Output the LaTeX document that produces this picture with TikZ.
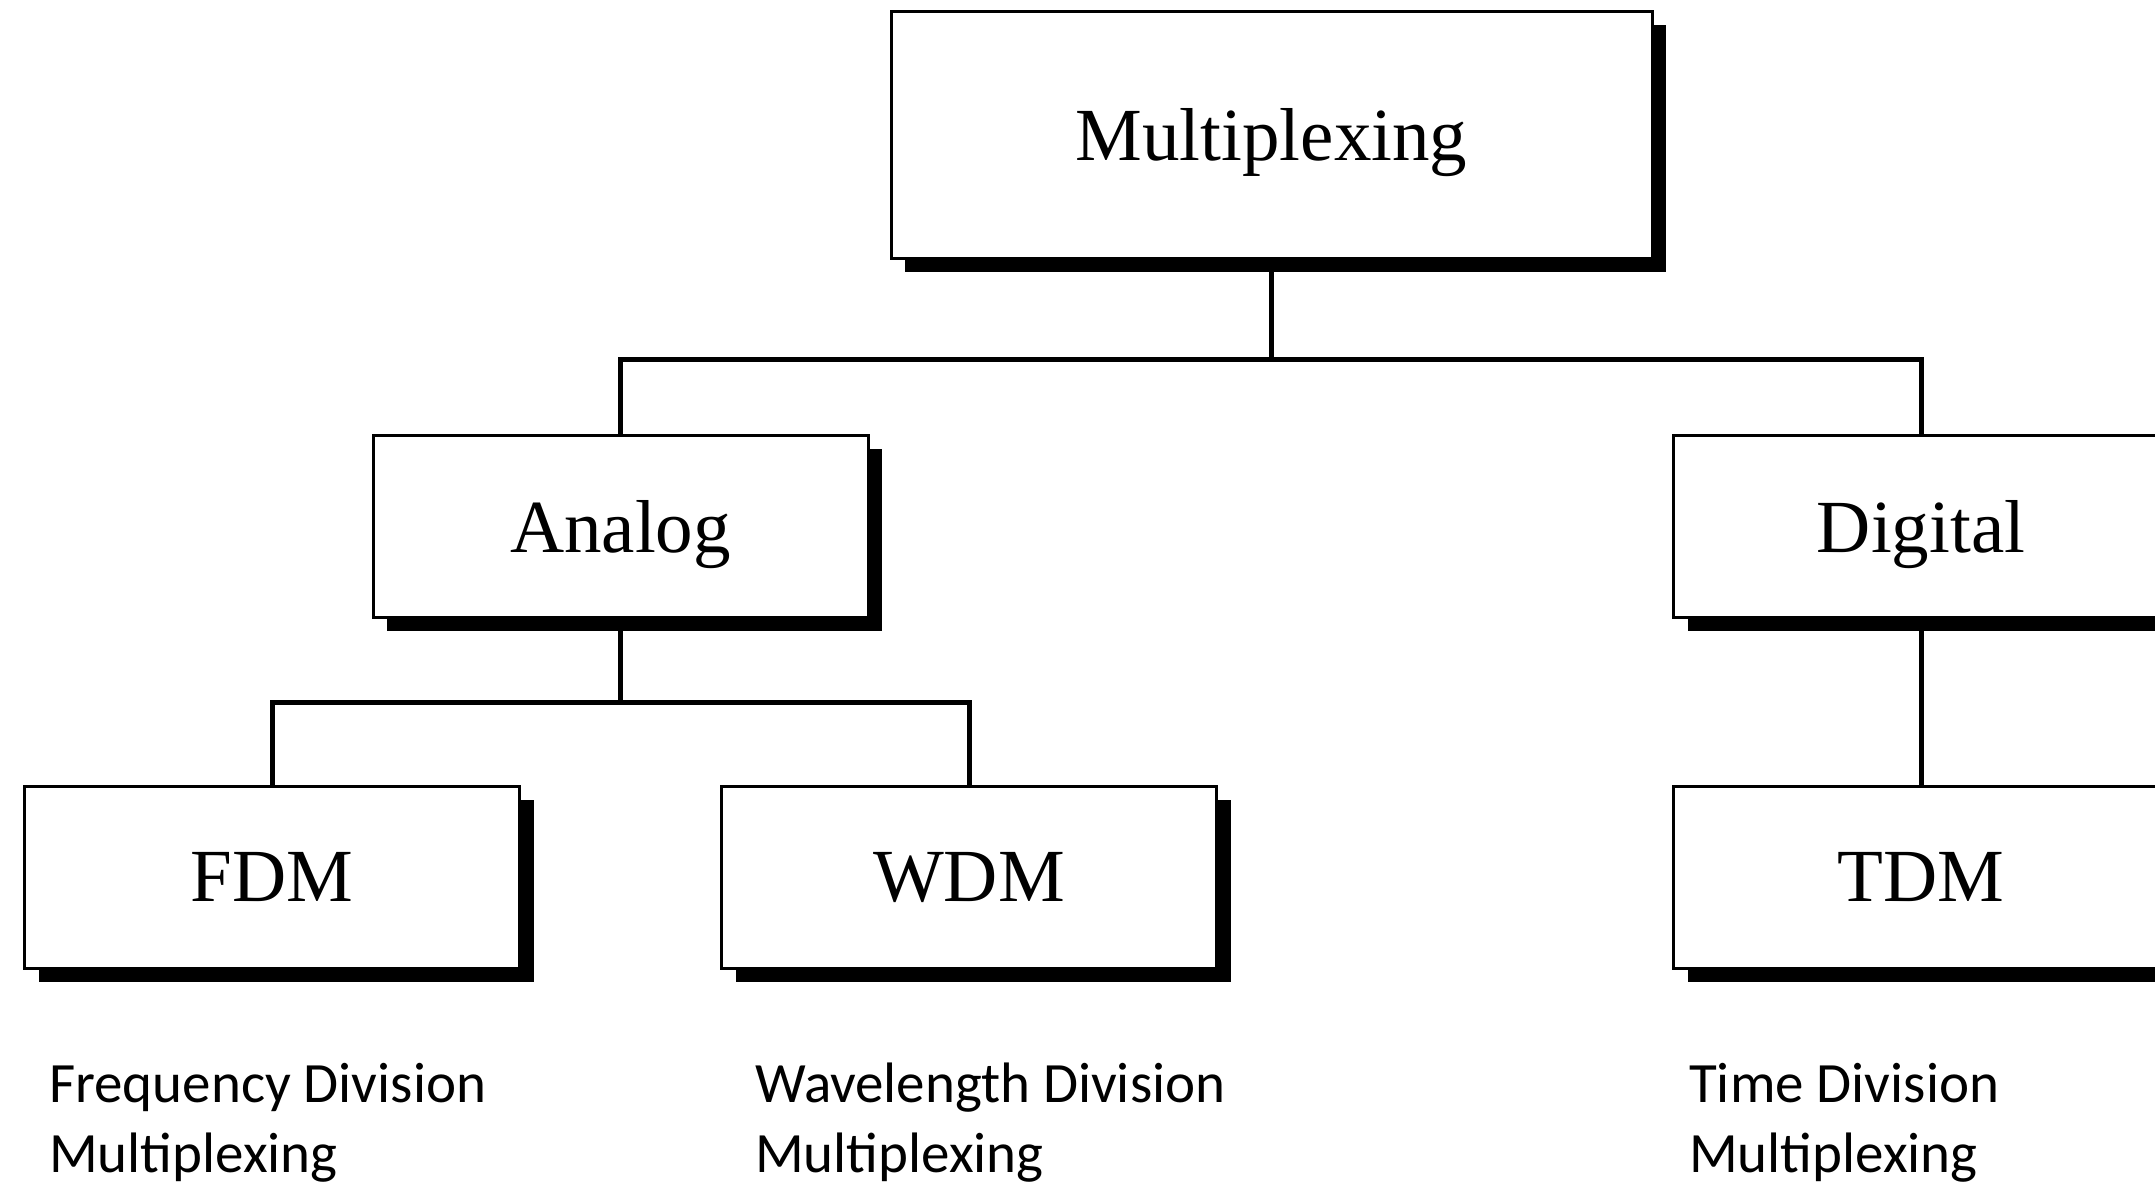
\documentclass[tikz,border=0pt]{standalone}
\usepackage{fontspec}
\setmainfont{Liberation Serif}
\newfontfamily\labelfont{Carlito}
\usetikzlibrary{shadows}
\begin{document}
\begin{tikzpicture}[x=1pt,y=-1pt,
  box/.style={draw=black, line width=3pt, fill=white, minimum width=495pt, minimum height=182pt,
    inner sep=0pt, text depth=0pt, font=\fontsize{75}{90}\selectfont,
    general shadow={fill=black, shadow xshift=14pt, shadow yshift=-14pt}},
  conn/.style={line width=5pt},
  desc/.style={anchor=base west, align=left, inner sep=0pt, font=\labelfont\fontsize{57}{70}\selectfont}]
\clip (0,0) rectangle (2155,1183);
\fill[white] (0,0) rectangle (2155,1183);
\node[box, minimum width=761pt, minimum height=247pt] (mux) at (1271.5,134.5) {Multiplexing};
\node[box] (ana) at (620.5,526) {Analog};
\node[box] (dig) at (1921,526) {Digital};
\node[box] (fdm) at (272,877) {FDM};
\node[box] (wdm) at (969,877) {WDM};
\node[box] (tdm) at (1921,877) {TDM};
\coordinate (bus1) at (1271.5,359);
\coordinate (bus2) at (620.5,702);
\draw[conn] (mux.south) -- (bus1) -| (ana.north);
\draw[conn] (bus1) -| (dig.north);
\draw[conn] (ana.south) -- (bus2) -| (fdm.north);
\draw[conn] (bus2) -| (wdm.north);
\draw[conn] (dig.south) -- (tdm.north);
\node[desc] (fdmt) at (49,1172) {Frequency Division\\Multiplexing};
\node[desc] (wdmt) at (755,1172) {Wavelength Division\\Multiplexing};
\node[desc] (tdmt) at (1689,1172) {Time Division\\Multiplexing};
\end{tikzpicture}
\end{document}
